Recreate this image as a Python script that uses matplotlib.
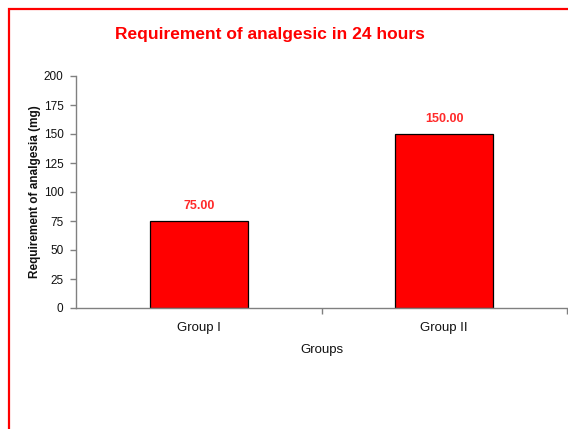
import matplotlib
matplotlib.use("Agg")
import matplotlib.pyplot as plt
from matplotlib.patches import Rectangle

plt.rcParams['font.family'] = ['Liberation Sans', 'DejaVu Sans']

# Data
groups = ["Group I", "Group II"]
values = [75.0, 150.0]
y_ticks = [0, 25, 50, 75, 100, 125, 150, 175, 200]

fig = plt.figure(figsize=(5.68, 4.29), dpi=100)
ax = fig.add_axes([76 / 568, 1 - 308 / 429, 491 / 568, 232 / 429])

# red frame around the chart area
fig.patches.append(Rectangle((9 / 568, -0.05), 1.2, 1 - 9 / 429 + 0.05,
                             transform=fig.transFigure, fill=False,
                             edgecolor='#ff0000', linewidth=1.6))

x = range(len(groups))
ax.bar(x, values, width=0.40, color='#ff0000', edgecolor='black', linewidth=0.9)

for xi, v in zip(x, values):
    ax.text(xi, v + 8, f"{v:.2f}", ha='center', va='bottom', color='#ff2a2a',
            fontsize=9, fontweight='bold')

ax.set_xlim(-0.5, len(groups) - 0.5)
ax.set_ylim(0, 200)
ax.set_yticks(y_ticks)
ax.tick_params(axis='y', labelsize=8.5, colors='#808080', labelcolor='#111111',
               length=4, width=1, pad=5)

# category labels between boundary ticks
ax.set_xticks([0.5, 1.5])
ax.set_xticklabels([])
ax.set_xticks(list(x), minor=True)
ax.set_xticklabels(groups, minor=True)
ax.tick_params(axis='x', which='major', colors='#808080', length=4, width=1)
ax.tick_params(axis='x', which='minor', length=0, labelsize=9.5,
               labelcolor='#111111', pad=10)

for side in ['top', 'right']:
    ax.spines[side].set_visible(False)
for side in ['left', 'bottom']:
    ax.spines[side].set_color('#808080')
    ax.spines[side].set_linewidth(1)

ax.set_xlabel("Groups", fontsize=9.5, color='#111111', labelpad=7)
ax.set_ylabel("Requirement of analgesia (mg)", fontsize=8.5, fontweight='bold',
              color='#111111', labelpad=2)

fig.text(270 / 568, 1 - 34 / 429, "Requirement of analgesic in 24 hours",
         ha='center', va='center', color='#ff0000', fontsize=12.5, fontweight='bold')

fig.savefig("out.png", dpi=100)
